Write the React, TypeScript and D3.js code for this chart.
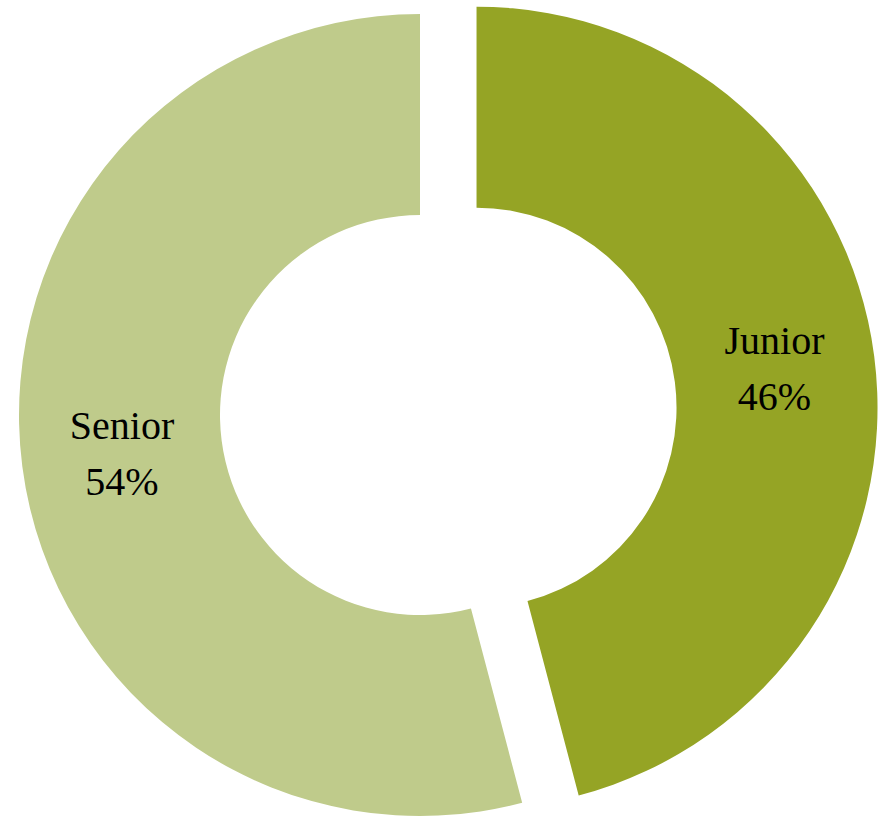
import React from 'react';
import * as d3 from 'd3';

const categories = ['Junior', 'Senior'];
const shares = [45.9, 54.1];
const colors = ['#95a425', '#bfcb8b'];

const width = 885;
const height = 817;
const cx = 420;
const cy = 415;
const outerR = 401;
const innerR = 200;
const explode = 57;

export default function App() {
  const pie = d3.pie<number>().sort(null).value((d) => d);
  const arcs = pie(shares);
  const arc = d3.arc<d3.PieArcDatum<number>>().innerRadius(innerR).outerRadius(outerR);
  const total = d3.sum(shares);

  return (
    <>
      <style>{'body{margin:0}'}</style>
      <svg width={width} height={height} style={{ display: 'block' }}>
        <g transform={`translate(${cx},${cy})`}>
          {arcs.map((a, i) => {
            // only the first slice (Junior) is pulled out
            const mid = (a.startAngle + a.endAngle) / 2;
            const off = i === 0 ? explode : 0;
            const dx = Math.sin(mid) * off;
            const dy = -Math.cos(mid) * off;
            const [lx, ly] = arc.centroid(a);
            return (
              <g key={categories[i]} transform={`translate(${dx},${dy})`}>
                <path d={arc(a) || ''} fill={colors[i]} />
                <text
                  textAnchor="middle"
                  fontFamily="'Liberation Serif', serif"
                  fontSize={40}
                  fill="#000"
                >
                  <tspan x={lx} y={ly - 15}>{categories[i]}</tspan>
                  <tspan x={lx} y={ly + 41}>{Math.round((shares[i] / total) * 100)}%</tspan>
                </text>
              </g>
            );
          })}
        </g>
      </svg>
    </>
  );
}
